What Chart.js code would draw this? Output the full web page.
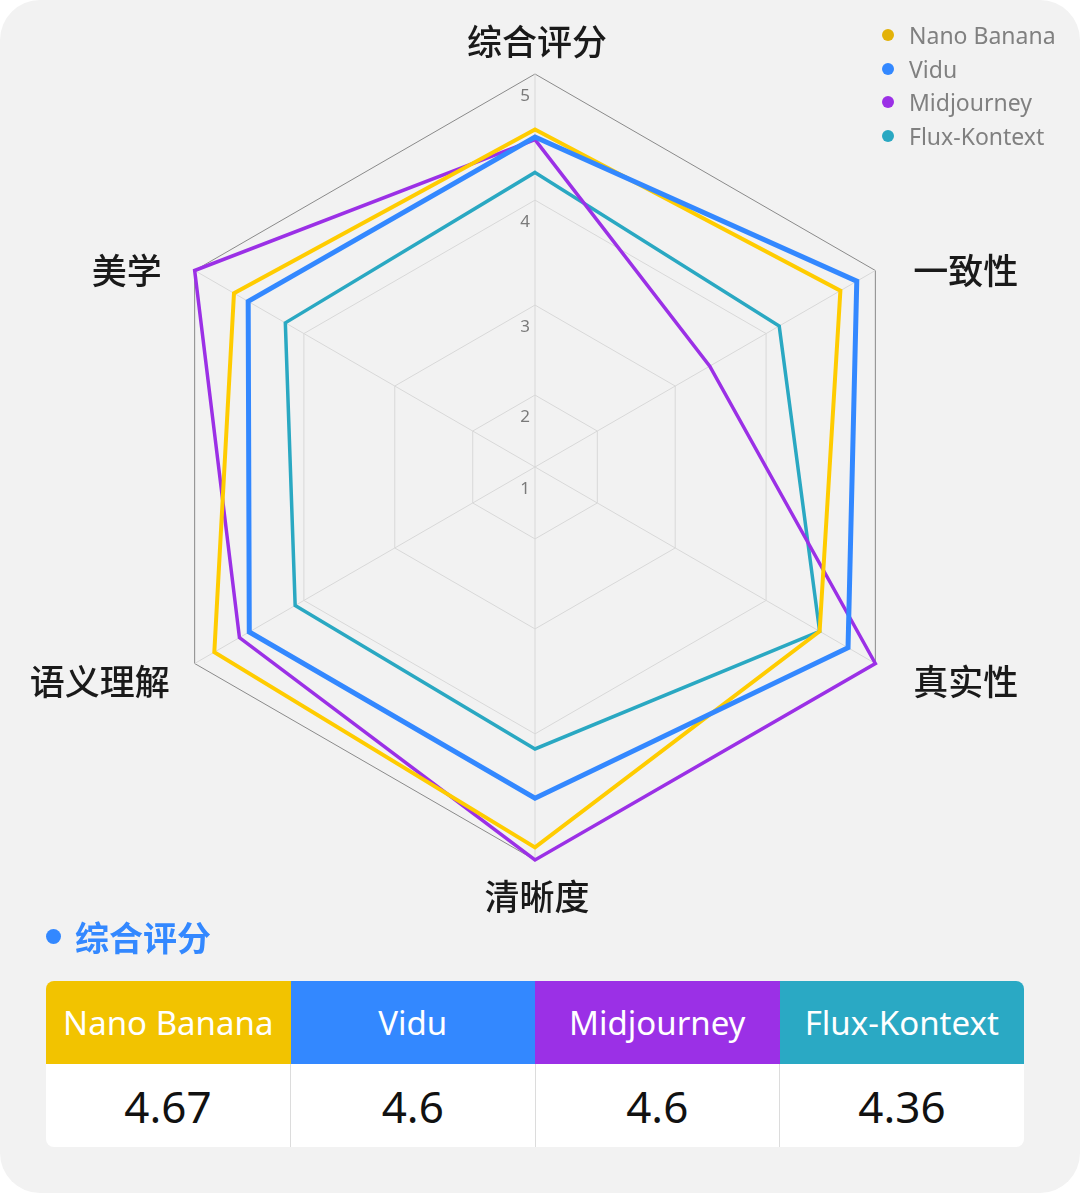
<!DOCTYPE html>
<html>
<head>
<meta charset="utf-8">
<script src="https://cdn.jsdelivr.net/npm/chart.js@4.4.1/dist/chart.umd.min.js"></script>
<style>
body{margin:0;background:#fff;width:1080px;height:1193px;overflow:hidden;font-family:"Noto Sans","Noto Sans CJK SC",sans-serif}
#card{position:absolute;left:0;top:0;width:1080px;height:1193px;background:#f2f2f2;border-radius:40px}
#wrap{position:absolute;left:0;top:0;width:1080px;height:930px}
#legend{position:absolute;left:880px;top:18px;font-size:23px;color:#808080}
#legend div{height:33.7px;display:flex;align-items:center}
#legend span{width:12px;height:12px;border-radius:50%;margin:0 15px 0 2px;display:inline-block}
#title{position:absolute;left:46px;top:910px;font:bold 34px "Noto Sans CJK SC";color:#3388ff;display:flex;align-items:center;height:52px}
#title i{width:15px;height:15px;border-radius:50%;background:#3388ff;margin-right:14px}
#tbl{position:absolute;left:46px;top:981px;width:978px;border-radius:8px;overflow:hidden}
table{width:100%;border-collapse:collapse;table-layout:fixed}
th{height:83px;color:#fff;font-weight:normal;font-size:33px;padding:0}
td{height:83px;background:#fff;font-size:44px;text-align:center;color:#111;border-left:1px solid #dcdcdc;padding:0}
td:first-child{border-left:none}
</style>
</head>
<body>
<div id="card"></div>
<div id="wrap"><canvas id="radar"></canvas></div>
<div id="legend"></div>
<div id="title"><i></i>综合评分</div>
<div id="tbl"><table><tr id="head"></tr><tr id="vals"></tr></table></div>
<script>
var axes = ["综合评分","一致性","真实性","清晰度","语义理解","美学"]
var models = ["Nano Banana","Vidu","Midjourney","Flux-Kontext"]
var nanoBanana = [4.56,4.68,4.49,4.90,4.82,4.64]
var vidu = [4.50,4.83,4.75,4.51,4.50,4.51]
var midjourney = [4.48,3.38,5,5,4.59,5]
var fluxKontext = [4.22,4.12,4.49,4.12,4.08,4.17]
var overall = [4.67,4.6,4.6,4.36]

var lineColors = ["#ffcc00","#3388ff","#9b30e6","#2aa8c2"]
var dotColors = ["#e3b208","#3388ff","#9b30e6","#2aa8c2"]
var headColors = ["#f2c300","#3388ff","#9b30e6","#2aa9c4"]

// rings of the picture are not evenly spaced: share of the radius at 1,2,3,4,5
var ringFrac = [0,0.183,0.412,0.679,1]
class RingScale extends Chart.RadialLinearScale {
	static id = "ringRadial"
	getDistanceFromCenterForValue(v){
		if(v == null || isNaN(v)) return NaN
		var t = Math.min(Math.max(v - this.min,0),ringFrac.length-1)
		var i = Math.min(Math.floor(t),ringFrac.length-2)
		return this.drawingArea*(ringFrac[i]+(ringFrac[i+1]-ringFrac[i])*(t-i))
	}
}
Chart.register(RingScale)

// where the axis names sit, from each outer corner: dx, dy, align
var labelPos = [[2,-32,"center"],[38,0,"left"],[38,18,"left"],[2,37,"center"],[-25,18,"right"],[-33,0,"right"]]
var axisText = {
	id:"axisText",
	afterDatasetsDraw(chart){
		var s = chart.scales.r, ctx = chart.ctx
		ctx.save()
		ctx.textBaseline = "middle"
		ctx.textAlign = "center"
		ctx.fillStyle = "#7a7a7a"
		ctx.font = "17px 'Noto Sans'"
		s.ticks.forEach(function(t){
			var p = s.getPointPosition(0,s.getDistanceFromCenterForValue(t.value))
			ctx.fillText(t.label,p.x-10,p.y+22)
		})
		ctx.fillStyle = "#1a1a1a"
		ctx.font = "500 35px 'Noto Sans CJK SC'"
		chart.data.labels.forEach(function(l,i){
			var p = s.getPointPosition(i,s.drawingArea)
			ctx.textAlign = labelPos[i][2]
			ctx.fillText(l,p.x+labelPos[i][0],p.y+labelPos[i][1])
		})
		ctx.restore()
	}
}

var series = [nanoBanana,vidu,midjourney,fluxKontext]
var widths = [4,5,3.5,3.5]
var orders = [1,0,2,3]
var sets = []
for(var i=0;i<models.length;i++){
	sets.push({label:models[i],data:series[i],borderColor:lineColors[i],borderWidth:widths[i],fill:false,order:orders[i],pointRadius:0})
}

new Chart("radar",{
	type:"radar",
	data:{labels:axes,datasets:sets},
	options:{
		responsive:true,maintainAspectRatio:false,animation:false,
		layout:{padding:{left:142,right:152,top:74,bottom:70}},
		plugins:{legend:{display:false},tooltip:{enabled:false}},
		elements:{line:{tension:0,borderJoinStyle:"miter"}},
		scales:{r:{
			type:"ringRadial",min:1,max:5,
			ticks:{stepSize:1,display:false},
			pointLabels:{display:false},
			grid:{color:function(c){return c.tick && c.tick.value==5 ? "#8a8a8a" : "#d8d8d8"},lineWidth:1},
			angleLines:{color:"#d8d8d8",lineWidth:1}
		}}
	},
	plugins:[axisText]
})

var leg = document.getElementById("legend")
var head = document.getElementById("head")
var vals = document.getElementById("vals")
for(var i=0;i<models.length;i++){
	var row = document.createElement("div")
	row.innerHTML = '<span style="background:'+dotColors[i]+'"></span>'+models[i]
	leg.appendChild(row)
	var th = document.createElement("th")
	th.style.background = headColors[i]
	th.innerHTML = models[i]
	head.appendChild(th)
	var td = document.createElement("td")
	td.innerHTML = overall[i]
	vals.appendChild(td)
}
</script>
</body>
</html>
